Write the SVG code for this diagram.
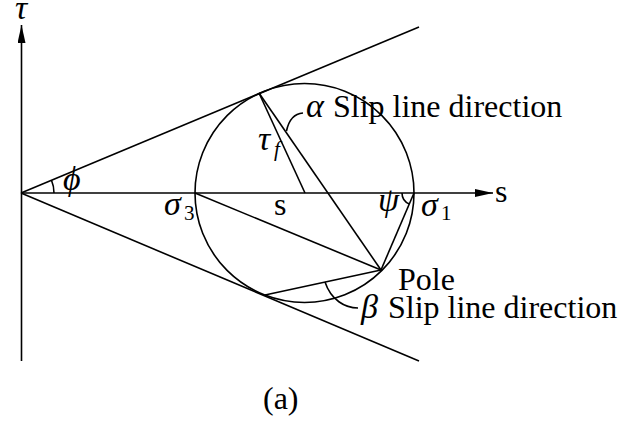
<svg xmlns="http://www.w3.org/2000/svg" width="641" height="424" viewBox="0 0 641 424">
<defs>
<marker id="arr" viewBox="0 0 18 8" refX="18" refY="4" markerWidth="18" markerHeight="8" markerUnits="userSpaceOnUse" orient="auto">
<path d="M0,0 L18,4 L0,8 Z" fill="#000"/>
</marker>
</defs>
<style>
.ln{fill:none;stroke:#000;stroke-width:1.6}
text{font-family:'Liberation Serif','DejaVu Serif',serif;fill:#000}
.tx{font-size:32px}
.gk{font-style:italic;font-size:34px}
.sb{font-size:21px}
.sbi{font-style:italic;font-size:21px}
</style>
<rect width="641" height="424" fill="#fff"/>
<g id="axes">
<line class="ln" x1="21.5" y1="361" x2="21.5" y2="25" marker-end="url(#arr)"/>
<line class="ln" x1="21" y1="193" x2="493" y2="193" marker-end="url(#arr)"/>
<text class="gk" x="15" y="19">τ</text>
<text class="tx" x="495" y="202" font-size="29">s</text>
</g>
<g id="envelope">
<line class="ln" x1="21" y1="193" x2="419" y2="27"/>
<line class="ln" x1="21" y1="193" x2="419" y2="361"/>
<path class="ln" d="M54,193 A33,33 0 0,0 51.5,180.3"/>
<text class="gk" x="63" y="190">ϕ</text>
</g>
<g id="circle">
<circle class="ln" cx="304.5" cy="193" r="109.5"/>
</g>
<g id="chords">
<line class="ln" x1="259" y1="93" x2="305" y2="193"/>
<line class="ln" x1="259" y1="93" x2="381" y2="270"/>
<line class="ln" x1="195" y1="193" x2="381" y2="270"/>
<line class="ln" x1="414" y1="193" x2="381" y2="270"/>
<line class="ln" x1="265" y1="295" x2="381" y2="270"/>
<path class="ln" d="M402,193 A12,12 0 0,0 409.3,204"/>
</g>
<g id="leaders">
<path class="ln" d="M303,113 Q290,114 286.5,131"/>
<path class="ln" d="M358,308 C345,308 331,300 325,282"/>
</g>
<g id="labels">
<text class="gk" x="164" y="215">σ</text>
<text class="sb" x="184" y="220">3</text>
<text class="tx" x="274" y="215">s</text>
<text class="gk" x="421" y="216">σ</text>
<text class="sb" x="441" y="220">1</text>
<text class="gk" x="378" y="211">ψ</text>
<text class="gk" x="258" y="150">τ</text>
<text class="sbi" x="274" y="156">f</text>
<text class="gk" x="306" y="117">α</text>
<text class="tx" x="333" y="117">Slip line direction</text>
<text class="tx" x="398" y="290">Pole</text>
<text class="gk" x="361" y="318">β</text>
<text class="tx" x="388" y="318">Slip line direction</text>
<text class="tx" x="263" y="409">(a)</text>
</g>
</svg>
